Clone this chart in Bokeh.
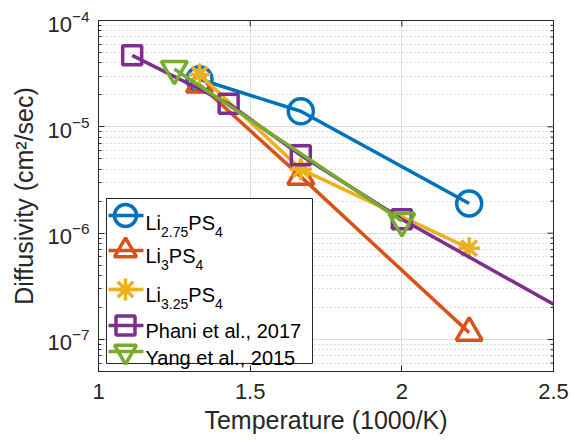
import math
from bokeh.plotting import figure
from bokeh.models import FixedTicker
from bokeh.core.properties import value
from bokeh.embed import file_html
from bokeh.resources import INLINE

# ---------------- data (x = 1000/T, y = diffusivity cm^2/s) ----------------
inv_T_li275 = [1.333, 1.667, 2.222]
D_li275 = [2.8e-5, 1.4e-5, 1.9e-6]
inv_T_li3 = [1.333, 1.667, 2.222]
D_li3 = [2.5e-5, 3.4e-6, 1.16e-7]
inv_T_li325 = [1.333, 1.667, 2.222]
D_li325 = [3.1e-5, 4.0e-6, 7.2e-7]
inv_T_phani = [1.111, 1.429, 1.667, 2.0, 3.333]
D_phani = [4.7e-5, 1.65e-5, 5.4e-6, 1.35e-6, 1.0e-8]
inv_T_yang = [1.25, 2.0]
D_yang = [3.5e-5, 1.3e-6]

x_ticks = [1, 1.5, 2, 2.5]
y_ticks = [1e-7, 1e-6, 1e-5, 1e-4]

legend_entries = [
    [("Li", 0), ("2.75", 1), ("PS", 0), ("4", 1)],
    [("Li", 0), ("3", 1), ("PS", 0), ("4", 1)],
    [("Li", 0), ("3.25", 1), ("PS", 0), ("4", 1)],
    [("Phani et al., 2017", 0)],
    [("Yang et al., 2015", 0)],
]

# ---------------- styles ----------------
BLUE, ORANGE, YELLOW, PURPLE, GREEN = "#0072BD", "#D95319", "#EDB120", "#7E2F8E", "#77AC30"
FONT = "Liberation Sans"
AX = "#262626"
LW = 3.5

series = [
    (inv_T_li275, D_li275, BLUE, "circle", 25),
    (inv_T_li3, D_li3, ORANGE, "triangle", 26),
    (inv_T_li325, D_li325, YELLOW, "asterisk", 22),
    (inv_T_phani, D_phani, PURPLE, "square", 19),
    (inv_T_yang, D_yang, GREEN, "inverted_triangle", 26),
]

X0, X1 = 1.0, 2.5
Y0, Y1 = 5e-8, 1e-4
W, H = 572, 440
FL, FR, FT, FB = 98, 553, 20, 371

p = figure(width=W, height=H, x_range=(X0, X1), y_range=(Y0, Y1),
           y_axis_type="log", output_backend="svg", toolbar_location=None,
           min_border_left=FL, min_border_right=W - FR,
           min_border_top=FT, min_border_bottom=H - FB)
p.background_fill_color = "white"
p.border_fill_color = "white"
p.outline_line_color = AX
p.outline_line_width = 1

minor = [k * 10.0 ** e for e in range(-8, -4) for k in range(2, 10) if Y0 <= k * 10.0 ** e <= Y1]

p.xaxis.ticker = FixedTicker(ticks=x_ticks)
p.yaxis.ticker = FixedTicker(ticks=y_ticks, minor_ticks=minor)

for ax in (p.xaxis[0], p.yaxis[0]):
    ax.axis_line_color = AX
    ax.major_tick_line_color = AX
    ax.minor_tick_line_color = AX
    ax.major_tick_in = 6
    ax.major_tick_out = 0
    ax.minor_tick_in = 3
    ax.minor_tick_out = 0
    ax.major_label_text_font = FONT
    ax.major_label_text_font_size = "22px"
    ax.major_label_text_color = AX
    ax.axis_label_text_font = FONT
    ax.axis_label_text_font_size = "25px"
    ax.axis_label_text_font_style = "normal"
    ax.axis_label_text_color = AX
p.xaxis.minor_tick_line_color = None
p.xaxis.axis_label = "Temperature (1000/K)"
p.yaxis.axis_label = "Diffusivity (cm\u00b2/sec)"
p.xaxis.major_label_standoff = 12
p.xaxis.axis_label_standoff = 4
p.yaxis.major_label_standoff = 9
p.yaxis.axis_label_standoff = 6

p.xgrid.grid_line_color = "#dcdcdc"
p.ygrid.grid_line_color = "#dcdcdc"
p.xgrid.minor_grid_line_color = None
p.ygrid.minor_grid_line_color = "#bdbdbd"
p.ygrid.minor_grid_line_dash = "1 3"

# ---------------- pixel -> data helpers (for box ticks and legend layout) ----------------
def px_x(px):
    return X0 + (px - FL) / (FR - FL) * (X1 - X0)

def py_y(py):
    l0, l1 = math.log10(Y0), math.log10(Y1)
    return 10 ** (l1 - (py - FT) / (FB - FT) * (l1 - l0))

# inward ticks on top and right edges of the box
p.segment(x0=x_ticks, x1=x_ticks, y0=[py_y(FT + 6)] * len(x_ticks), y1=[Y1] * len(x_ticks),
          line_color=AX, line_width=1)
p.segment(x0=[px_x(FR - 6)] * len(y_ticks), x1=[X1] * len(y_ticks), y0=y_ticks, y1=y_ticks,
          line_color=AX, line_width=1)
p.segment(x0=[px_x(FR - 3)] * len(minor), x1=[X1] * len(minor), y0=minor, y1=minor,
          line_color=AX, line_width=1)

# ---------------- data series ----------------
for xs, ys, col, mk, sz in series:
    p.line(xs, ys, line_color=col, line_width=LW)
    p.scatter(xs, ys, marker=mk, size=sz, line_color=col, line_width=LW, fill_alpha=0)

# ---------------- manual legend ----------------
p.quad(left=[px_x(106)], right=[px_x(312)], top=[py_y(198)], bottom=[py_y(363)],
       fill_color="white", line_color=AX, line_width=1)

ARIAL = {"L": 556, "i": 222, "P": 667, "S": 667, ".": 278}
for d in "0123456789":
    ARIAL[d] = 556

def tw(s, fs):
    return sum(ARIAL.get(c, 556) for c in s) / 1000.0 * fs

marker_py = [215, 250, 289, 325, 351]
base_py = [222, 255, 294, 330, 357]
MAIN_FS, SUB_FS, SUB_DY = 20, 14, 9
for (xs, ys, col, mk, sz), pieces, my, by in zip(series, legend_entries, marker_py, base_py):
    p.line([px_x(108), px_x(143)], [py_y(my), py_y(my)], line_color=col, line_width=LW)
    p.scatter([px_x(125)], [py_y(my)], marker=mk, size=min(sz, 22), line_color=col,
              line_width=LW, fill_alpha=0)
    cx = 145.0
    for txt, sub in pieces:
        fs = SUB_FS if sub else MAIN_FS
        yy = by + (SUB_DY if sub else 0)
        p.text(x=[px_x(cx)], y=[py_y(yy)], text=[txt], text_font=value(FONT),
               text_font_size=value(f"{fs}px"), text_color="black",
               text_baseline="alphabetic", text_align="left")
        cx += tw(txt, fs)

open("out.html", "w").write(file_html(p, INLINE))
